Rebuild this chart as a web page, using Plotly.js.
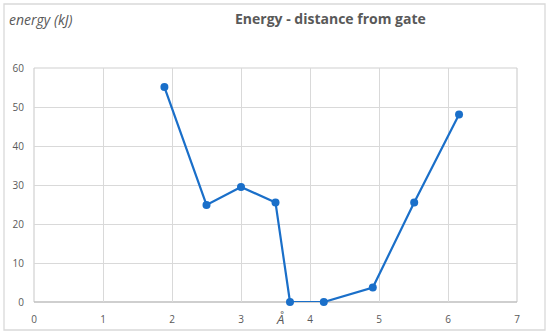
<!DOCTYPE html>
<html>
<head>
<meta charset="utf-8">
<script src="https://cdn.plot.ly/plotly-3.0.1.min.js"></script>
<style>html,body{margin:0;padding:0;background:#fff;}#chart{width:550px;height:335px;}</style>
</head>
<body>
<div id="chart"></div>
<script>
const distance = [1.89, 2.5, 3.0, 3.5, 3.71, 4.2, 4.91, 5.51, 6.16];
const energy = [55.1, 24.9, 29.5, 25.5, 0, 0, 3.7, 25.5, 48.1];
const xTicks = [0, 1, 2, 3, 4, 5, 6, 7];
const yTicks = [0, 10, 20, 30, 40, 50, 60];
const chartTitle = "Energy - distance from gate";
const yTitle = "energy (kJ)";
const xTitle = "Å";

const W = 550, H = 335;
const L = 34, R = 517, T = 68, B = 302;
const px = v => (v - L) / (R - L);
const py = v => (B - v) / (B - T);
const gray = "#595959";
const font = "Open Sans, Liberation Sans, sans-serif";

const trace = {
  x: distance, y: energy, type: "scatter", mode: "lines+markers",
  line: {color: "#1a6fc9", width: 2.2},
  marker: {color: "#1a6fc9", size: 8},
  cliponaxis: false, hoverinfo: "skip"
};

const layout = {
  width: W, height: H,
  margin: {l: L, r: W - R, t: T, b: H - B, pad: 0},
  paper_bgcolor: "#fff", plot_bgcolor: "#fff",
  showlegend: false,
  xaxis: {
    range: [0, 7], tickvals: xTicks, ticktext: xTicks.map(String),
    showgrid: true, gridcolor: "#d9d9d9", gridwidth: 1,
    zeroline: false, showline: false, ticks: "outside", ticklen: 8, tickcolor: "rgba(0,0,0,0)",
    tickfont: {family: font, size: 10, color: gray}, fixedrange: true
  },
  yaxis: {
    range: [0, 60], tickvals: yTicks, ticktext: yTicks.map(String),
    showgrid: true, gridcolor: "#d9d9d9", gridwidth: 1,
    zeroline: false, showline: false, ticks: "outside", ticklen: 7, tickcolor: "rgba(0,0,0,0)",
    tickfont: {family: font, size: 10, color: gray}, fixedrange: true
  },
  shapes: [
    {type: "rect", xref: "paper", yref: "paper", x0: px(4), x1: px(545), y0: py(330), y1: py(4),
     line: {color: "#d9d9d9", width: 1.3}, fillcolor: "rgba(0,0,0,0)", layer: "below"},
    {type: "line", xref: "paper", yref: "paper", x0: 1, x1: 1, y0: 0, y1: 1,
     line: {color: "#d0d0d0", width: 1.2}, layer: "below"},
    {type: "line", xref: "paper", yref: "paper", x0: 0, x1: 1, y0: 1, y1: 1,
     line: {color: "#d0d0d0", width: 1.2}, layer: "below"},
    {type: "line", xref: "paper", yref: "paper", x0: 0, x1: 0, y0: 0, y1: 1,
     line: {color: "#d0d0d0", width: 1.2}, layer: "below"},
    {type: "line", xref: "paper", yref: "paper", x0: 0, x1: 1, y0: 0, y1: 0,
     line: {color: "#bfbfbf", width: 1.6}, layer: "below"}
  ],
  annotations: [
    {text: "<b>" + chartTitle + "</b>", xref: "paper", yref: "paper", x: px(330), y: py(18),
     xanchor: "center", yanchor: "middle", showarrow: false,
     font: {family: font, size: 14, color: gray}},
    {text: "<i>" + yTitle + "</i>", xref: "paper", yref: "paper", x: px(7), y: py(19),
     xanchor: "left", yanchor: "middle", showarrow: false,
     font: {family: font, size: 14, color: gray}},
    {text: "<i>" + xTitle + "</i>", xref: "paper", yref: "paper", x: px(280), y: py(319),
     xanchor: "center", yanchor: "middle", showarrow: false,
     font: {family: font, size: 13, color: gray}}
  ]
};

Plotly.newPlot("chart", [trace], layout, {displayModeBar: false, staticPlot: true});
</script>
</body>
</html>
